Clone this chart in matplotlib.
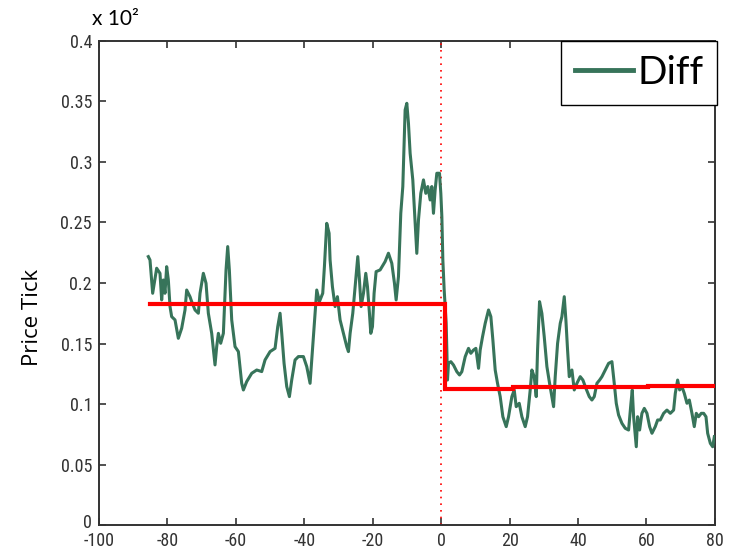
import matplotlib
matplotlib.use("Agg")
import matplotlib.pyplot as plt
from matplotlib import font_manager
from matplotlib.font_manager import FontProperties
from matplotlib.transforms import ScaledTranslation

# Time offset (event at t = 0) and price-tick difference (units of 10^2)
t = [-85.58, -85.09, -84.31, -83.14, -82.17, -81.68, -81.19, -80.71, -80.22, -79.73,
     -79.24, -78.76, -77.78, -76.81, -75.83, -74.86, -74.37, -73.40, -72.91, -71.93,
     -70.96, -70.47, -69.50, -68.72, -68.04, -67.06, -66.09, -65.60, -65.11, -64.43,
     -63.65, -62.87, -62.38, -61.90, -61.21, -60.24, -59.26, -58.29, -57.80, -56.83,
     -55.36, -53.90, -52.44, -51.47, -50.00, -48.54, -47.76, -47.08, -46.59, -45.91,
     -45.13, -44.35, -43.67, -42.70, -41.72, -40.26, -39.28, -38.31, -37.82, -37.14,
     -36.36, -35.58, -34.61, -34.12, -33.44, -32.75, -32.46, -31.78, -31.00, -30.32,
     -29.54, -28.56, -27.59, -27.10, -26.61, -25.83, -25.15, -24.37, -23.88, -23.40,
     -22.71, -22.03, -21.54, -20.96, -20.57, -20.08, -19.60, -19.01, -17.84, -16.38,
     -15.41, -14.43, -13.65, -13.16, -12.48, -11.80, -11.21, -10.53, -10.04, -9.56,
     -9.07, -8.29, -7.61, -7.12, -6.63, -5.95, -5.17, -4.49, -3.90, -3.22,
     -2.73, -2.25, -1.76, -1.27, -0.49, -0.10, 0.20, 0.49, 0.88, 1.46,
     1.66, 1.85, 2.14, 2.83, 3.61, 4.58, 5.36, 6.04, 7.02, 7.99,
     8.67, 9.45, 10.14, 10.92, 11.40, 12.09, 12.87, 13.84, 14.52, 15.11,
     15.79, 16.47, 17.25, 18.03, 19.01, 19.69, 20.66, 21.35, 21.93, 22.81,
     23.59, 24.56, 25.24, 26.02, 26.51, 27.19, 27.78, 28.17, 28.75, 29.43,
     30.12, 30.90, 31.68, 32.36, 32.85, 33.33, 34.02, 34.80, 35.28, 35.97,
     36.45, 36.94, 37.43, 38.21, 38.89, 39.67, 40.64, 41.42, 42.30, 43.28,
     44.05, 44.74, 45.52, 46.30, 46.98, 47.95, 48.93, 49.90, 50.58, 51.17,
     51.85, 52.83, 53.80, 54.77, 55.46, 55.85, 56.24, 57.02, 57.41, 57.99,
     58.67, 59.36, 60.14, 60.92, 61.60, 62.57, 63.26, 64.04, 65.01, 65.98,
     66.96, 67.93, 68.42, 69.10, 69.69, 70.37, 71.05, 71.83, 72.52, 73.29,
     73.97, 74.56, 75.24, 76.02, 76.71, 77.39, 77.88, 78.66, 79.34, 79.83]

diff = [0.2218, 0.2190, 0.1915, 0.2122, 0.2080, 0.1860, 0.2025, 0.1915, 0.2135, 0.2025,
        0.1805, 0.1722, 0.1695, 0.1543, 0.1626, 0.1777, 0.1942, 0.1887, 0.1846, 0.1777,
        0.1750, 0.1915, 0.2080, 0.1998, 0.1750, 0.1584, 0.1323, 0.1474, 0.1584, 0.1502,
        0.1584, 0.2108, 0.2301, 0.2108, 0.1695, 0.1474, 0.1433, 0.1171, 0.1116, 0.1185,
        0.1254, 0.1281, 0.1268, 0.1364, 0.1433, 0.1460, 0.1639, 0.1750, 0.1584, 0.1336,
        0.1144, 0.1061, 0.1199, 0.1364, 0.1392, 0.1392, 0.1309, 0.1171, 0.1364, 0.1639,
        0.1942, 0.1846, 0.1915, 0.2135, 0.2493, 0.2411, 0.2190, 0.1970, 0.1805, 0.1887,
        0.1695, 0.1584, 0.1474, 0.1433, 0.1584, 0.1750, 0.1970, 0.2218, 0.2025, 0.1805,
        0.1915, 0.2080, 0.1970, 0.1750, 0.1584, 0.1639, 0.1915, 0.2094, 0.2108, 0.2177,
        0.2246, 0.2163, 0.1998, 0.1860, 0.2053, 0.2576, 0.2797, 0.3430, 0.3485, 0.3320,
        0.3072, 0.2852, 0.2493, 0.2245, 0.2521, 0.2741, 0.2852, 0.2741, 0.2797, 0.2686,
        0.2797, 0.2576, 0.2769, 0.2907, 0.2907, 0.2741, 0.2548, 0.2190, 0.1942, 0.1667,
        0.1446, 0.1198, 0.1336, 0.1350, 0.1322, 0.1267, 0.1240, 0.1267, 0.1391, 0.1460,
        0.1419, 0.1446, 0.1460, 0.1295, 0.1446, 0.1556, 0.1667, 0.1777, 0.1722, 0.1529,
        0.1281, 0.1171, 0.1061, 0.0895, 0.0813, 0.0895, 0.1061, 0.1116, 0.0978, 0.1006,
        0.0895, 0.0813, 0.0895, 0.1116, 0.1281, 0.1226, 0.1061, 0.1446, 0.1846, 0.1749,
        0.1556, 0.1309, 0.1171, 0.1061, 0.0978, 0.1226, 0.1501, 0.1667, 0.1722, 0.1887,
        0.1694, 0.1446, 0.1226, 0.1281, 0.1116, 0.1171, 0.1226, 0.1198, 0.1130, 0.1061,
        0.1033, 0.1061, 0.1171, 0.1198, 0.1226, 0.1281, 0.1336, 0.1350, 0.1171, 0.1006,
        0.0909, 0.0840, 0.0799, 0.0785, 0.1006, 0.1116, 0.0895, 0.0647, 0.0895, 0.0785,
        0.0923, 0.0964, 0.0923, 0.0813, 0.0758, 0.0813, 0.0868, 0.0868, 0.0923, 0.0950,
        0.0923, 0.0950, 0.1088, 0.1198, 0.1116, 0.1143, 0.1088, 0.1006, 0.1033, 0.0923,
        0.0813, 0.0923, 0.0895, 0.0923, 0.0923, 0.0895, 0.0758, 0.0675, 0.0647, 0.0730]

# Piecewise-constant mean level (segment edges and values)
mean_edges = [-85.0, 1.0, 21.0, 60.5, 80.0]
mean_vals = [0.1827, 0.1124, 0.1138, 0.1149]

xticks = [-100, -80, -60, -40, -20, 0, 20, 40, 60, 80]
yticks = [0, 0.05, 0.1, 0.15, 0.2, 0.25, 0.3, 0.35, 0.4]
ytick_labels = ["0", "0.05", "0.1", "0.15", "0.2", "0.25", "0.3", "0.35", "0.4"]


def narrow_font(size):
    """Pick a narrow sans face for the tick labels, if one is installed."""
    prefs = ["LiberationSansNarrow-Regular", "RobotoCondensed-Regular",
             "OpenSans_Condensed-Regular", "OpenSansCondensed", "DejaVuSansCondensed.ttf"]
    files = [f.fname for f in font_manager.fontManager.ttflist]
    for p in prefs:
        for fn in files:
            if p in fn:
                return FontProperties(fname=fn, size=size)
    return FontProperties(family="DejaVu Sans", stretch="condensed", size=size)


tick_fp = narrow_font(13)
label_font = "Lato"

green = "#37745a"
axis_col = "#333333"

fig = plt.figure(figsize=(7.31, 5.53), dpi=100)
ax = fig.add_axes([0.1354, 0.0506, 0.8426, 0.8753])

line, = ax.plot(t, diff, color=green, lw=2.2, label="Diff", zorder=3)

# step function for the mean level
sx, sy = [], []
for i, v in enumerate(mean_vals):
    sx += [mean_edges[i], mean_edges[i + 1]]
    sy += [v, v]
ax.plot(sx, sy, color="#ff0000", lw=3.0, zorder=4, solid_joinstyle="miter")

ax.axvline(0, color="#ff0000", lw=1.2, ls=(0, (1, 3)), zorder=2)

ax.set_xlim(-100, 80)
ax.set_ylim(0, 0.4)
ax.set_xticks(xticks)
ax.set_xticklabels([str(v) for v in xticks], fontproperties=tick_fp)
ax.set_yticks(yticks)
ax.set_yticklabels(ytick_labels, fontproperties=tick_fp)
ax.tick_params(axis="x", pad=5)
ax.tick_params(axis="y", pad=5)
ax.tick_params(direction="in", length=5, width=1.2, color=axis_col,
               top=True, right=True, labelcolor="#333333")
for s in ax.spines.values():
    s.set_color(axis_col)
    s.set_linewidth(1.4)

# lift the "0" label a little so it clears the corner x label
zero_lbl = ax.get_yticklabels()[0]
zero_lbl.set_transform(zero_lbl.get_transform()
                       + ScaledTranslation(0, 3 / 72, fig.dpi_scale_trans))

ax.set_ylabel("Price Tick", fontfamily="Open Sans", fontsize=16)
ax.yaxis.set_label_coords(-0.091, 0.428)
ax.text(-0.012, 1.025, "x 10²", transform=ax.transAxes, fontfamily=label_font,
        fontsize=15, ha="left", va="bottom")

leg = ax.legend(handles=[line], loc="upper right", bbox_to_anchor=(1.004, 1.0),
                borderaxespad=0, fancybox=False, framealpha=1,
                prop={"family": label_font, "size": 28},
                handlelength=1.48, handletextpad=0.12, borderpad=0.36)
leg.get_frame().set_edgecolor("black")
leg.get_frame().set_linewidth(1.0)
for h in leg.get_lines():
    h.set_linewidth(3.5)

fig.savefig("out.png", dpi=100)
